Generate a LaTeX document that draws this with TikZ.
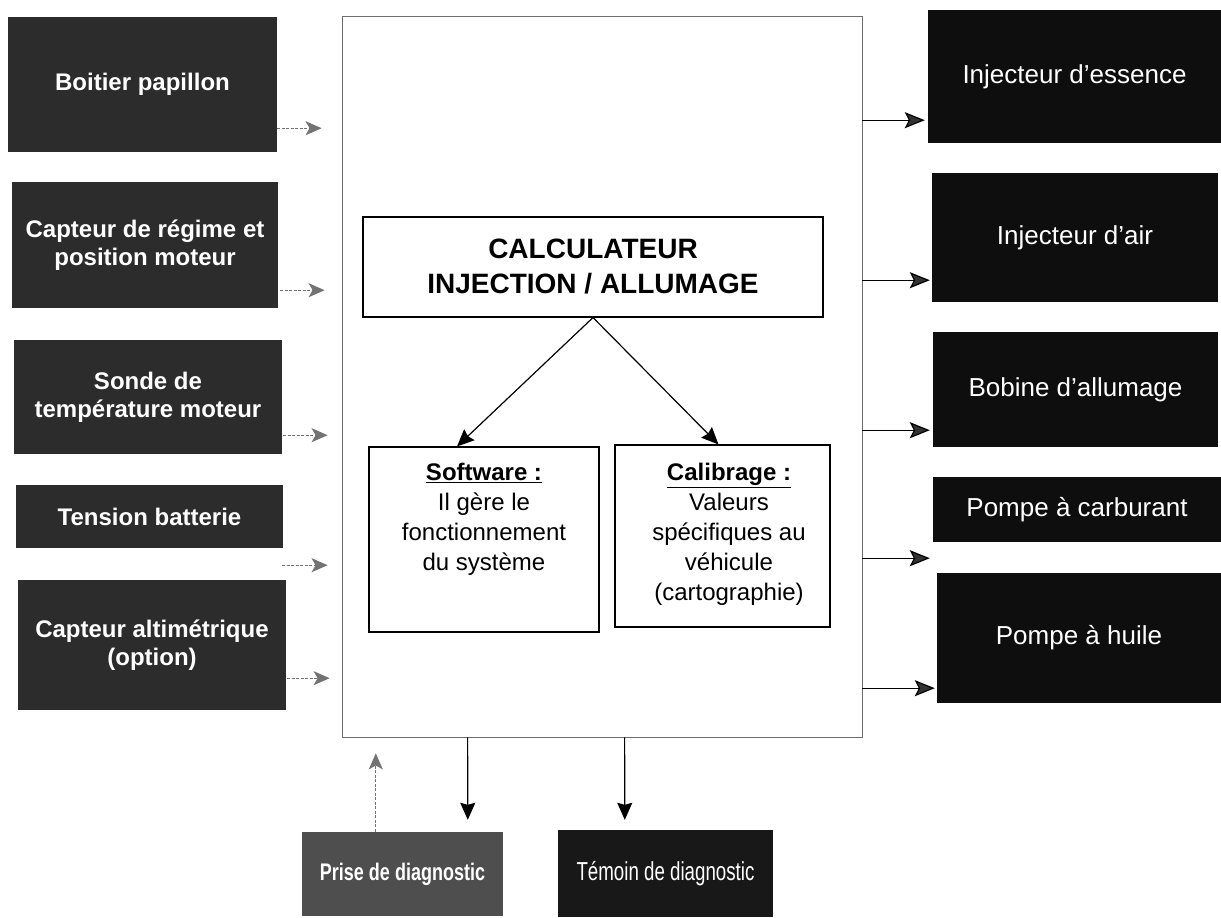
\documentclass[tikz,border=0pt]{standalone}
\usepackage{fontspec}
\usepackage{graphicx}
\setmainfont{Liberation Sans}
\usetikzlibrary{arrows.meta,calc}
\definecolor{leftbox}{RGB}{44,44,44}
\definecolor{rightbox}{RGB}{14,14,14}
\definecolor{prisebox}{RGB}{78,78,78}
\definecolor{temoinbox}{RGB}{24,24,24}
\definecolor{eculine}{RGB}{110,110,110}
\definecolor{inarrow}{RGB}{115,115,115}
\definecolor{headgray}{RGB}{50,50,50}
\begin{document}
\begin{tikzpicture}[x=1pt,y=-1pt,
  lbox/.style={fill=leftbox, text=white, inner sep=0pt, align=center, font=\fontsize{24}{28}\selectfont\bfseries},
  rbox/.style={fill=rightbox, text=white, inner sep=0pt, align=center, font=\fontsize{26}{30}\selectfont},
  wbox/.style={draw=black, line width=1.1pt, fill=white, inner sep=0pt},
  subtext/.style={anchor=north, align=center, inner sep=0pt, font=\fontsize{24}{30}\selectfont},
  inarr/.style={draw=inarrow, line width=1pt, dash pattern=on 3pt off 1.5pt, -{Stealth[length=16pt,width=14pt,inset=4pt,fill=inarrow]}},
  outarr/.style={draw=black, line width=1.2pt, -{Stealth[length=20pt,width=16pt,inset=4pt,fill=headgray]}},
  downarr/.style={draw=black, line width=1.2pt, -{Stealth[length=17pt,width=15pt,inset=2pt]}},
]
\fill[white] (0,0) rectangle (1221,918);
\useasboundingbox (0,0) rectangle (1221,918);

% main ECU frame
\node[draw=eculine, line width=0.8pt, minimum width=520pt, minimum height=721pt, inner sep=0pt] (ecu) at (602,376.5) {};

% left input boxes
\node[lbox, minimum width=269pt, minimum height=135pt] (bp) at (142.5,84.5) {Boitier papillon};
\node[lbox, minimum width=266pt, minimum height=126pt] (crp) at (145,245) {Capteur de régime et\\position moteur};
\node[lbox, minimum width=268pt, minimum height=114pt] (stm) at (148,397) {Sonde de\\température moteur};
\node[lbox, minimum width=267pt, minimum height=63pt] (tb) at (149.5,516.5) {Tension batterie};
\node[lbox, minimum width=268pt, minimum height=130pt] (ca) at (152,645) {Capteur altimétrique\\(option)};

% right output boxes
\node[rbox, minimum width=293pt, minimum height=133pt] (ie) at (1074.5,76.5) {Injecteur d'essence};
\node[rbox, minimum width=286pt, minimum height=129pt] (ia) at (1075,237.5) {Injecteur d'air};
\node[rbox, minimum width=285pt, minimum height=115pt] (bob) at (1075.5,389.5) {Bobine d'allumage};
\node[rbox, minimum width=288pt, minimum height=65pt] (pc) at (1077,509.5) {Pompe à carburant};
\node[rbox, minimum width=284pt, minimum height=130pt] (ph) at (1079,638) {Pompe à huile};

% bottom boxes
\node[fill=prisebox, text=white, inner sep=0pt, minimum width=201pt, minimum height=84pt, font=\fontsize{24}{28}\selectfont\bfseries] (pd) at (402.5,874) {\raisebox{-5pt}{\scalebox{0.75}[1]{Prise de diagnostic}}};
\node[fill=temoinbox, text=white, inner sep=0pt, minimum width=215pt, minimum height=87pt, font=\fontsize{26}{30}\selectfont] (tm) at (665.5,873.5) {\scalebox{0.72}[1]{Témoin de diagnostic}};

% inner boxes
\node[wbox, minimum width=460pt, minimum height=100pt, align=center, font=\fontsize{28}{35}\selectfont\bfseries] (ecm) at (593,267) {CALCULATEUR\\INJECTION / ALLUMAGE};
\node[wbox, minimum width=230pt, minimum height=185pt] (sw) at (484,539.5) {};
\node[wbox, minimum width=215pt, minimum height=182pt] (cal) at (722.5,536) {};
\node[subtext] (swt) at (484,463) {\textbf{\underline{Software :}}\\Il gère le\\fonctionnement\\du système};
\node[subtext] (calt) at (729,463) {\textbf{\underline{Calibrage :}}\\Valeurs\\spécifiques au\\véhicule\\(cartographie)};

\draw[downarr] (ecm.south) -- ($(sw.north)+(-27,0)$);
\draw[downarr] (ecm.south) -- ($(cal.north)+(-4,0)$);

% input arrows
\coordinate (i1) at ($(bp.south east)+(0,-24)$);
\coordinate (i2) at ($(crp.south east)+(2,-18)$);
\coordinate (i3) at ($(stm.south east)+(1,-19)$);
\coordinate (i4) at ($(tb.south east)+(-1,17)$);
\coordinate (i5) at ($(ca.south east)+(1,-32)$);
\draw[inarr] (i1) -- ($(i1 -| ecu.west)+(-20,0)$);
\draw[inarr] (i2) -- ($(i2 -| ecu.west)+(-17,0)$);
\draw[inarr] (i3) -- ($(i3 -| ecu.west)+(-14,0)$);
\draw[inarr] (i4) -- ($(i4 -| ecu.west)+(-14,0)$);
\draw[inarr] (i5) -- ($(i5 -| ecu.west)+(-12,0)$);

% output arrows
\coordinate (o1) at ($(ie.south west)+(-3,-23)$);
\coordinate (o2) at ($(ia.south west)+(-2,-22)$);
\coordinate (o3) at ($(bob.south west)+(-3,-17)$);
\coordinate (o4) at ($(pc.south west)+(-3,16)$);
\coordinate (o5) at ($(ph.south west)+(-2,-15)$);
\draw[outarr] (o1 -| ecu.east) -- (o1);
\draw[outarr] (o2 -| ecu.east) -- (o2);
\draw[outarr] (o3 -| ecu.east) -- (o3);
\draw[outarr] (o4 -| ecu.east) -- (o4);
\draw[outarr] (o5 -| ecu.east) -- (o5);

% bottom arrows
\draw[inarr] ($(pd.north west)+(74,0)$) -- ($(pd.north west |- ecu.south)+(74,16)$);
\draw[downarr] ($(ecu.south west)+(126,0)$) -- ($(pd.north west)+(166,-12)$);
\draw[downarr] ($(ecu.south west)+(283,0)$) -- ($(tm.north west)+(67,-10)$);
\end{tikzpicture}
\end{document}
